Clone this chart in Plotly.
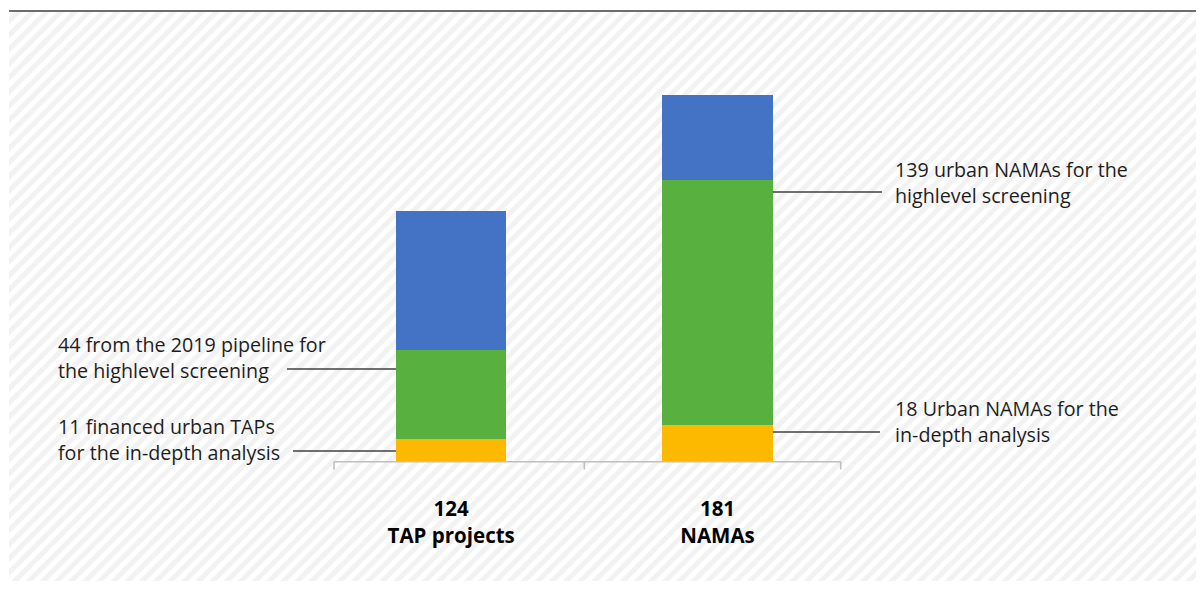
import plotly.graph_objects as go

# ---------------- data ----------------
categories = ["TAP projects", "NAMAs"]
in_depth = [11, 18]          # yellow segment
highlevel = [44, 121]        # green segment
remaining = [69, 42]         # blue segment
totals = [a + b + c for a, b, c in zip(in_depth, highlevel, remaining)]

tick_labels = [f"<b>{t}</b><br><b>{c}</b>" for t, c in zip(totals, categories)]

label_a = "44 from the 2019 pipeline for<br>the highlevel screening"
label_b = "11 financed urban TAPs<br>for the in-depth analysis"
label_c = "139 urban NAMAs for the<br>highlevel screening"
label_d = "18 Urban NAMAs for the<br>in-depth analysis"

# ---------------- geometry (reference-pixel coordinates) ----------------
VW, VH = 1204, 589       # viewport
OFF = 8                  # page body margin
FW, FH = VW - OFF, VH - 2 * OFF
BASE_PX = 461.7          # pixel row of the value 0
PPU = 2.025              # pixels per unit
X0_PX = 451.2            # pixel column of first category
PPC = 266.3              # pixels per category step
BAR_W = 0.415

x_range = [(OFF - X0_PX) / PPC, (OFF + FW - X0_PX) / PPC]
y_range = [(BASE_PX - (OFF + FH)) / PPU, (BASE_PX - OFF) / PPU]

def cx(px):
    return (px - X0_PX) / PPC

def cy(py):
    return (BASE_PX - py) / PPU

FONT = "Open Sans"
TXT = "#1e1e1e"

fig = go.Figure()

# hatched background (pixel-space subplot underneath)
fig.add_trace(go.Scatter(
    x=[9, VW + 2, VW + 2, 9, 9], y=[12, 12, VH + 2, VH + 2, 12],
    mode="lines", fill="toself", fillcolor="#ffffff",
    fillpattern=dict(shape="/", size=10, solidity=0.5,
                     fgcolor="#e5e5e5", bgcolor="#ffffff"),
    line=dict(width=0), hoverinfo="skip", showlegend=False,
    xaxis="x", yaxis="y"))

# stacked bars
for vals, color, name in [(in_depth, "#FCB900", "In-depth analysis"),
                          (highlevel, "#58B13F", "Highlevel screening"),
                          (remaining, "#4472C4", "Other")]:
    fig.add_trace(go.Bar(x=categories, y=vals, name=name, marker_color=color,
                         marker_line_width=0, width=BAR_W,
                         xaxis="x2", yaxis="y2", showlegend=False))

shapes = []
# top rule
shapes.append(dict(type="line", xref="x", yref="y", x0=9, x1=VW + 2, y0=11, y1=11,
                   line=dict(color="#3c3c3c", width=1.6)))
# category axis line and ticks
ax_l, ax_r = cx(334), cx(840.7)
shapes.append(dict(type="line", xref="x2", yref="y2", x0=ax_l, x1=ax_r, y0=0, y1=0,
                   line=dict(color="#bfbfbf", width=1.6)))
for xt in [ax_l, 0.5, ax_r]:
    shapes.append(dict(type="line", xref="x2", yref="y2", x0=xt, x1=xt, y0=0,
                       y1=cy(469.5), line=dict(color="#bfbfbf", width=1.6)))

# leader lines
half = BAR_W / 2
leaders = [
    (cx(287), 0 - half, cy(369)),
    (cx(293), 0 - half, cy(451)),
    (1 + half, cx(882), cy(192)),
    (1 + half, cx(880), cy(432)),
]
for x0, x1, yv in leaders:
    shapes.append(dict(type="line", xref="x2", yref="y2", x0=x0, x1=x1, y0=yv, y1=yv,
                       line=dict(color="#404040", width=1.4)))

annotations = []
def add_label(text, x_px, y_center_px):
    annotations.append(dict(text=text, xref="x2", yref="y2", x=cx(x_px), y=cy(y_center_px),
                            xanchor="left", yanchor="middle", align="left", showarrow=False,
                            font=dict(family=FONT, size=19.7, color=TXT)))

add_label(label_a, 56, 357)
add_label(label_b, 56, 439)
add_label(label_c, 893, 182.5)
add_label(label_d, 893, 421)

fig.update_layout(
    width=FW, height=FH,
    margin=dict(l=0, r=0, t=0, b=0),
    paper_bgcolor="#ffffff", plot_bgcolor="rgba(0,0,0,0)",
    barmode="stack", bargap=0,
    showlegend=False,
    shapes=shapes, annotations=annotations,
    xaxis=dict(domain=[0, 1], range=[OFF, OFF + FW], visible=False, fixedrange=True),
    yaxis=dict(domain=[0, 1], range=[OFF + FH, OFF], visible=False, fixedrange=True),
    xaxis2=dict(domain=[0, 1], range=x_range, anchor="free",
                position=1 - (BASE_PX - OFF) / FH,
                type="category", categoryorder="array", categoryarray=categories,
                tickvals=categories, ticktext=tick_labels, ticks="", showline=False,
                showgrid=False, zeroline=False, ticklabelstandoff=33,
                tickfont=dict(family=FONT, size=20.5, color="#000000")),
    yaxis2=dict(domain=[0, 1], range=y_range, anchor="x2", visible=False,
                showgrid=False, zeroline=False),
)

fig.write_html("out.html")
